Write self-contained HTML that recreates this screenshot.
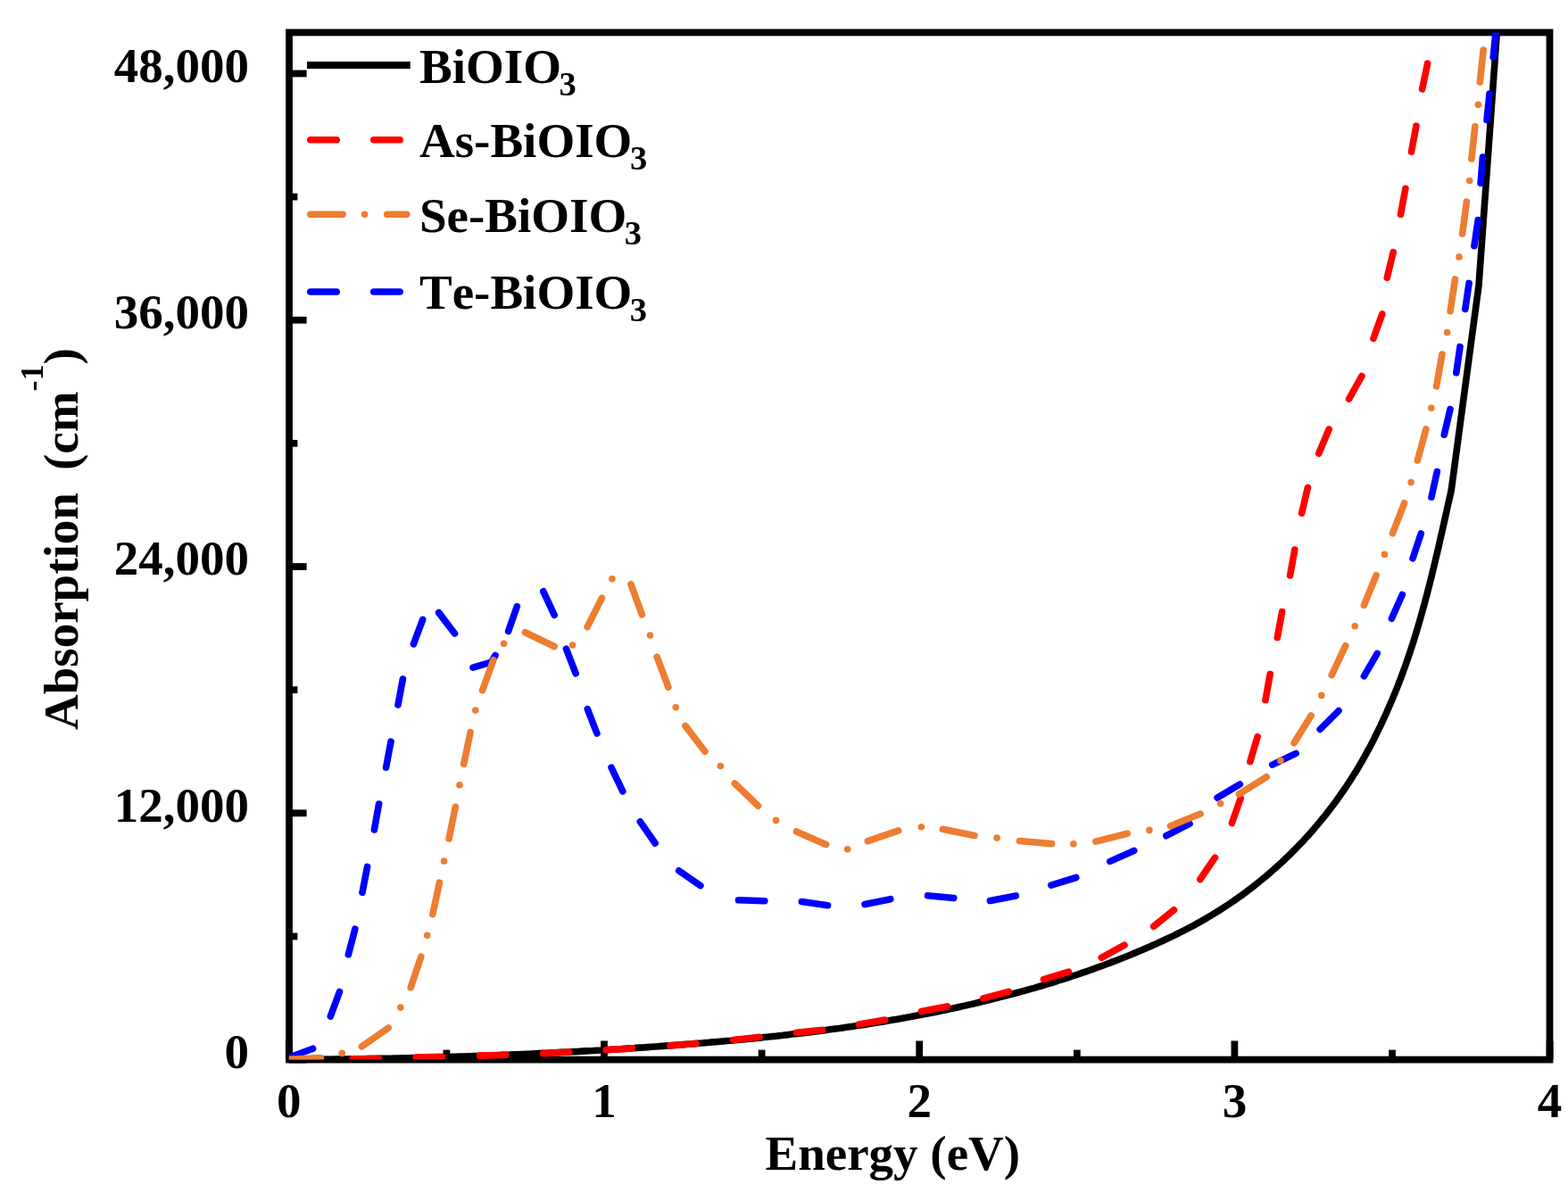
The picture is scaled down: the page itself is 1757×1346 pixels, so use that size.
<!DOCTYPE html>
<html><head><meta charset="utf-8"><style>
html,body{margin:0;padding:0;background:#fff;}
svg{display:block;}
text{font-kerning:none;}
</style></head><body>
<svg width="1757" height="1346" viewBox="0 0 1757 1346">
<rect width="1757" height="1346" fill="#fff"/>
<defs><clipPath id="pc"><rect x="323.8" y="36.4" width="1412.7" height="1151.2"/></clipPath></defs>
<rect x="324" y="36.4" width="1412.5" height="1151.1999999999998" fill="none" stroke="#000" stroke-width="7.8"/>
<line x1="324" y1="1187.60" x2="343.6" y2="1187.60" stroke="#000" stroke-width="7.8"/>
<line x1="324" y1="1049.46" x2="333.4" y2="1049.46" stroke="#000" stroke-width="7.8"/>
<line x1="324" y1="911.31" x2="343.6" y2="911.31" stroke="#000" stroke-width="7.8"/>
<line x1="324" y1="773.17" x2="333.4" y2="773.17" stroke="#000" stroke-width="7.8"/>
<line x1="324" y1="635.02" x2="343.6" y2="635.02" stroke="#000" stroke-width="7.8"/>
<line x1="324" y1="496.88" x2="333.4" y2="496.88" stroke="#000" stroke-width="7.8"/>
<line x1="324" y1="358.74" x2="343.6" y2="358.74" stroke="#000" stroke-width="7.8"/>
<line x1="324" y1="220.59" x2="333.4" y2="220.59" stroke="#000" stroke-width="7.8"/>
<line x1="324" y1="82.45" x2="343.6" y2="82.45" stroke="#000" stroke-width="7.8"/>
<line x1="323.80" y1="1187.6" x2="323.80" y2="1166.5" stroke="#000" stroke-width="7.8"/>
<line x1="500.40" y1="1187.6" x2="500.40" y2="1176.6" stroke="#000" stroke-width="7.8"/>
<line x1="677.00" y1="1187.6" x2="677.00" y2="1166.5" stroke="#000" stroke-width="7.8"/>
<line x1="853.60" y1="1187.6" x2="853.60" y2="1176.6" stroke="#000" stroke-width="7.8"/>
<line x1="1030.20" y1="1187.6" x2="1030.20" y2="1166.5" stroke="#000" stroke-width="7.8"/>
<line x1="1206.80" y1="1187.6" x2="1206.80" y2="1176.6" stroke="#000" stroke-width="7.8"/>
<line x1="1383.40" y1="1187.6" x2="1383.40" y2="1166.5" stroke="#000" stroke-width="7.8"/>
<line x1="1560.00" y1="1187.6" x2="1560.00" y2="1176.6" stroke="#000" stroke-width="7.8"/>
<line x1="1736.60" y1="1187.6" x2="1736.60" y2="1166.5" stroke="#000" stroke-width="7.8"/>
<g clip-path="url(#pc)"><path d="M323.8,1187.6 L327.9,1187.6 L331.9,1187.5 L336.0,1187.5 L340.1,1187.5 L344.1,1187.5 L348.2,1187.4 L352.3,1187.4 L356.3,1187.4 L360.4,1187.3 L364.5,1187.3 L368.5,1187.2 L372.6,1187.2 L376.7,1187.1 L380.7,1187.1 L384.8,1187.0 L388.9,1187.0 L392.9,1186.9 L397.0,1186.9 L401.1,1186.8 L405.1,1186.7 L409.2,1186.7 L413.2,1186.6 L417.3,1186.5 L421.4,1186.5 L425.4,1186.4 L429.5,1186.3 L433.6,1186.2 L437.6,1186.2 L441.7,1186.1 L445.8,1186.0 L449.8,1185.9 L453.9,1185.8 L457.9,1185.7 L462.0,1185.6 L466.1,1185.5 L470.1,1185.4 L474.2,1185.3 L478.2,1185.2 L482.3,1185.1 L486.4,1185.0 L490.4,1184.9 L494.5,1184.8 L498.5,1184.6 L502.6,1184.5 L506.7,1184.4 L510.7,1184.3 L514.8,1184.1 L518.8,1184.0 L522.9,1183.9 L527.0,1183.7 L531.0,1183.6 L535.1,1183.5 L539.1,1183.3 L543.2,1183.2 L547.3,1183.0 L551.3,1182.9 L555.4,1182.7 L559.4,1182.6 L563.5,1182.4 L567.6,1182.2 L571.6,1182.1 L575.7,1181.9 L579.7,1181.7 L583.8,1181.5 L587.8,1181.4 L591.9,1181.2 L596.0,1181.0 L600.0,1180.8 L604.1,1180.6 L608.1,1180.4 L612.2,1180.2 L616.2,1180.0 L620.3,1179.8 L624.4,1179.6 L628.4,1179.4 L632.5,1179.2 L636.5,1179.0 L640.6,1178.8 L644.6,1178.6 L648.7,1178.4 L652.8,1178.1 L656.8,1177.9 L660.9,1177.7 L664.9,1177.5 L669.0,1177.2 L673.0,1177.0 L677.1,1176.7 L681.1,1176.5 L685.2,1176.2 L689.3,1176.0 L693.3,1175.7 L697.4,1175.5 L701.4,1175.2 L705.5,1174.9 L709.5,1174.7 L713.6,1174.4 L717.6,1174.1 L721.7,1173.9 L725.8,1173.6 L729.8,1173.3 L733.9,1173.0 L737.9,1172.7 L742.0,1172.4 L746.0,1172.1 L750.1,1171.8 L754.1,1171.5 L758.2,1171.2 L762.3,1170.9 L766.3,1170.6 L770.4,1170.3 L774.4,1170.0 L778.5,1169.6 L782.5,1169.3 L786.6,1169.0 L790.6,1168.6 L794.7,1168.3 L798.7,1167.9 L802.8,1167.6 L806.9,1167.2 L810.9,1166.9 L815.0,1166.5 L819.0,1166.2 L823.1,1165.8 L827.1,1165.4 L831.2,1165.0 L835.2,1164.6 L839.3,1164.3 L843.3,1163.9 L847.4,1163.5 L851.4,1163.1 L855.5,1162.6 L859.5,1162.2 L863.5,1161.8 L867.6,1161.4 L871.6,1160.9 L875.7,1160.5 L879.7,1160.0 L883.8,1159.6 L887.8,1159.1 L891.8,1158.6 L895.9,1158.2 L899.9,1157.7 L903.9,1157.2 L908.0,1156.7 L912.0,1156.2 L916.0,1155.7 L920.1,1155.2 L924.1,1154.7 L928.1,1154.1 L932.1,1153.6 L936.2,1153.0 L940.2,1152.5 L944.2,1151.9 L948.2,1151.3 L952.2,1150.8 L956.3,1150.2 L960.3,1149.6 L964.3,1149.0 L968.3,1148.4 L972.3,1147.7 L976.3,1147.1 L980.3,1146.5 L984.3,1145.8 L988.3,1145.2 L992.3,1144.5 L996.3,1143.8 L1000.3,1143.1 L1004.3,1142.4 L1008.3,1141.7 L1012.3,1141.0 L1016.3,1140.3 L1020.3,1139.6 L1024.3,1138.8 L1028.2,1138.1 L1032.2,1137.3 L1036.2,1136.6 L1040.2,1135.8 L1044.2,1135.0 L1048.1,1134.2 L1052.1,1133.4 L1056.1,1132.6 L1060.1,1131.7 L1064.0,1130.9 L1068.0,1130.0 L1072.0,1129.2 L1075.9,1128.3 L1079.9,1127.4 L1083.9,1126.5 L1087.8,1125.6 L1091.8,1124.7 L1095.7,1123.8 L1099.7,1122.8 L1103.7,1121.9 L1107.6,1120.9 L1111.6,1119.9 L1115.5,1118.9 L1119.5,1117.9 L1123.4,1116.9 L1127.3,1115.9 L1131.3,1114.9 L1135.2,1113.8 L1139.1,1112.8 L1143.1,1111.7 L1147.0,1110.6 L1150.9,1109.5 L1154.8,1108.4 L1158.8,1107.3 L1162.7,1106.1 L1166.6,1105.0 L1170.5,1103.8 L1174.4,1102.7 L1178.3,1101.5 L1182.2,1100.3 L1186.1,1099.0 L1189.9,1097.8 L1193.8,1096.6 L1197.7,1095.3 L1201.6,1094.0 L1205.4,1092.8 L1209.3,1091.5 L1213.1,1090.1 L1217.0,1088.8 L1220.8,1087.5 L1224.7,1086.1 L1228.5,1084.7 L1232.3,1083.4 L1236.1,1082.0 L1240.0,1080.5 L1243.8,1079.1 L1247.6,1077.6 L1251.4,1076.2 L1255.1,1074.7 L1258.9,1073.2 L1262.7,1071.7 L1266.5,1070.2 L1270.2,1068.6 L1274.0,1067.1 L1277.7,1065.5 L1281.4,1063.9 L1285.2,1062.3 L1288.9,1060.7 L1292.6,1059.0 L1296.3,1057.4 L1300.0,1055.7 L1303.7,1054.0 L1307.4,1052.3 L1311.0,1050.6 L1314.7,1048.8 L1318.3,1047.0 L1322.0,1045.2 L1325.6,1043.4 L1329.2,1041.6 L1332.8,1039.7 L1336.4,1037.8 L1339.9,1035.9 L1343.5,1033.9 L1347.0,1031.9 L1350.5,1029.9 L1354.0,1027.8 L1357.5,1025.7 L1361.0,1023.6 L1364.4,1021.5 L1367.9,1019.3 L1371.3,1017.1 L1374.7,1014.9 L1378.1,1012.6 L1381.4,1010.3 L1384.8,1008.0 L1388.1,1005.6 L1391.4,1003.3 L1394.7,1000.9 L1397.9,998.4 L1401.2,996.0 L1404.4,993.5 L1407.6,991.0 L1410.8,988.4 L1413.9,985.9 L1417.1,983.3 L1420.2,980.6 L1423.3,978.0 L1426.3,975.3 L1429.4,972.6 L1432.4,969.9 L1435.4,967.2 L1438.4,964.4 L1441.3,961.6 L1444.3,958.8 L1447.2,955.9 L1450.0,953.0 L1452.9,950.1 L1455.7,947.2 L1458.5,944.3 L1461.3,941.3 L1464.0,938.3 L1466.8,935.3 L1469.5,932.3 L1472.1,929.2 L1474.8,926.1 L1477.4,923.0 L1480.0,919.9 L1482.5,916.7 L1485.1,913.6 L1487.6,910.4 L1490.1,907.2 L1492.5,904.0 L1495.0,900.7 L1497.4,897.4 L1499.7,894.1 L1502.1,890.8 L1504.4,887.5 L1506.7,884.1 L1509.0,880.8 L1511.2,877.4 L1513.4,874.0 L1515.6,870.6 L1517.7,867.1 L1519.9,863.7 L1522.0,860.2 L1524.0,856.7 L1526.1,853.2 L1528.1,849.7 L1530.1,846.1 L1532.0,842.5 L1534.0,839.0 L1535.9,835.4 L1537.8,831.8 L1539.6,828.2 L1541.4,824.5 L1543.2,820.9 L1545.0,817.2 L1546.8,813.6 L1548.5,809.9 L1550.2,806.2 L1551.9,802.5 L1553.6,798.8 L1555.2,795.1 L1556.9,791.3 L1558.5,787.6 L1560.1,783.9 L1561.6,780.1 L1563.2,776.4 L1564.7,772.6 L1566.2,768.8 L1567.7,765.0 L1569.2,761.2 L1570.6,757.4 L1572.0,753.6 L1573.4,749.8 L1574.8,746.0 L1576.1,742.2 L1577.4,738.3 L1578.7,734.5 L1580.0,730.7 L1581.3,726.8 L1582.6,722.9 L1583.8,719.1 L1585.0,715.2 L1586.2,711.3 L1587.4,707.4 L1588.5,703.6 L1589.7,699.7 L1590.8,695.8 L1591.9,691.9 L1593.0,688.0 L1594.1,684.1 L1595.2,680.1 L1596.3,676.2 L1597.3,672.3 L1598.4,668.4 L1599.4,664.5 L1600.4,660.5 L1601.4,656.6 L1602.4,652.6 L1603.4,648.7 L1604.4,644.8 L1605.3,640.8 L1606.3,636.9 L1607.3,632.9 L1608.2,629.0 L1609.1,625.0 L1610.1,621.0 L1611.0,617.1 L1611.9,613.1 L1612.8,609.2 L1613.7,605.2 L1614.6,601.2 L1615.5,597.3 L1616.4,593.3 L1617.3,589.3 L1618.2,585.4 L1619.1,581.4 L1620.0,577.4 L1620.9,573.5 L1621.7,569.5 L1622.6,565.5 L1623.5,561.6 L1624.4,557.6 L1625.3,553.7 L1626.2,549.7 L1657.0,320.0 L1677.3,36.4 L1679.8,0.0" fill="none" stroke="#000" stroke-width="7.6" stroke-linejoin="round"/>
<path d="M323.8,1187.6L353.2,1187.2 M395.0,1186.8L424.3,1186.2 M466.3,1185.1L495.6,1184.3 M537.5,1183.1L566.9,1182.2 M608.4,1180.7L637.7,1179.0 M679.2,1176.7L708.6,1174.9 M751.0,1171.9L780.2,1169.5 M821.8,1165.5L851.1,1162.3 M892.5,1157.4L921.7,1154.2 M962.6,1148.1L991.6,1143.1 M1032.5,1133.6L1061.3,1127.9 M1101.8,1118.9L1130.2,1111.4 M1169.4,1097.7L1197.5,1089.1 M1234.2,1073.3L1260.0,1059.2 M1292.7,1038.3L1315.5,1019.8 M1344.8,985.5L1361.4,961.2 M1380.4,922.5L1390.1,894.7 M1400.8,853.7L1409.1,825.6 M1418.0,784.5L1423.2,755.5 M1431.3,714.5L1436.6,685.6 M1445.6,644.9L1450.8,616.0 M1458.6,575.1L1465.4,546.5 M1477.7,508.2L1489.2,481.1 M1511.6,447.1L1525.9,421.5 M1538.9,379.5L1548.8,351.9 M1554.3,311.2L1561.2,282.6 M1569.5,240.2L1574.9,211.3 M1581.5,170.1L1586.9,141.2 M1593.6,99.9L1599.6,71.2" fill="none" stroke="#ff0000" stroke-width="7.6" stroke-linecap="round"/>
<path d="M323.8,1185.2L350.6,1175.2 M370.3,1139.1L380.5,1111.5 M390.4,1069.7L397.8,1041.2 M406.0,1000.2L411.6,971.4 M419.4,929.9L424.6,901.0 M432.6,860.1L438.0,831.2 M446.0,789.9L451.4,761.0 M463.4,721.9L473.7,694.3 M491.7,686.6L509.5,710.0 M569.6,707.5L579.3,679.7 M608.8,662.8L621.2,689.4 M634.4,727.2L645.1,754.7 M658.3,794.6L668.9,822.0 M685.1,860.3L697.8,886.8 M717.3,920.8L734.1,945.0 M760.7,975.8L784.9,992.6 M827.5,1008.8L856.8,1009.7 M898.3,1010.5L927.5,1014.7 M969.0,1013.5L997.8,1007.7 M1039.5,1003.8L1068.8,1006.5 M1109.4,1009.5L1138.2,1003.9 M1177.8,992.1L1205.8,983.5 M1243.8,965.4L1270.7,953.4 M1306.8,936.7L1333.0,923.2 M1364.1,894.1L1389.3,878.9 M1425.7,857.1L1452.1,844.4 M1479.2,817.4L1500.0,796.6 M1528.4,757.8L1543.2,732.4 M1559.4,693.3L1571.3,666.5 M1583.0,625.9L1592.3,598.0 M1604.0,557.2L1610.3,528.5 M1618.3,487.2L1625.0,458.6 M1631.8,417.8L1636.0,388.7 M1641.8,346.5L1646.1,317.4 M1651.9,275.6L1656.2,246.6 M1659.1,205.3L1661.4,176.0 M1666.0,134.4L1669.0,105.1 M1673.2,64.0L1676.5,30.0 M530,748.2 L550.5,742.2 L555,734.5" fill="none" stroke="#0000ff" stroke-width="7.6" stroke-linecap="round" stroke-linejoin="round"/>
<path d="M323.8,1187.4L359.5,1185.6 M405.4,1172.8L435.2,1152.0 M460.2,1106.7L471.8,1072.2 M484.8,1024.7L492.4,989.2 M503.1,939.9L510.3,904.3 M519.7,856.2L527.1,820.7 M540.5,773.8L552.9,739.7 M588.4,708.8L621.1,724.5 M658.1,702.6L674.4,670.1 M706.9,654.7L719.4,688.9 M736.1,736.2L748.9,770.1 M767.9,813.4L789.9,842.3 M823.3,878.0L849.6,903.2 M892.4,932.0L925.6,946.6 M972.3,942.7L1006.7,930.9 M1056.4,929.3L1092.0,936.5 M1142.5,942.5L1178.6,945.6 M1227.8,943.1L1263.0,934.2 M1311.5,925.8L1345.1,912.1 M1388.4,889.9L1419.2,870.8 M1450.0,832.8L1469.1,801.9 M1492.2,756.6L1507.7,723.7 M1528.4,678.4L1542.1,644.7 M1560.5,597.7L1573.6,563.8 M1588.4,516.1L1597.9,481.0 M1609.6,432.8L1615.9,397.1 M1625.1,348.7L1630.5,312.9 M1638.6,262.1L1643.4,226.2 M1648.9,178.0L1652.8,141.9 M1658.3,92.0L1662.2,56.0 M383.2,1180.4h0M448.8,1129.1h0M478.7,1048.2h0M497.6,965.1h0M515.0,879.7h0M532.8,796.0h0M564.6,721.3h0M641.5,723.0h0M685.9,648.8h0M728.5,712.0h0M757.2,792.7h0M807.3,858.5h0M869.5,919.4h0M949.7,951.8h0M1032.4,926.8h0M1117.1,939.1h0M1202.9,945.7h0M1287.9,930.4h0M1367.7,900.6h0M1435.0,852.4h0M1480.8,779.4h0M1518.2,701.8h0M1551.4,621.4h0M1581.1,540.6h0M1603.8,457.3h0M1621.6,372.6h0M1635.0,287.9h0M1646.7,202.6h0M1656.4,117.2h0" fill="none" stroke="#ed7d31" stroke-width="7.6" stroke-linecap="round"/></g>
<text x="279" y="1197.00" text-anchor="end" font-size="55" font-family="'Liberation Serif', 'Times New Roman', serif" font-weight="bold">0</text>
<text x="279" y="920.71" text-anchor="end" font-size="55" font-family="'Liberation Serif', 'Times New Roman', serif" font-weight="bold">12,000</text>
<text x="279" y="644.42" text-anchor="end" font-size="55" font-family="'Liberation Serif', 'Times New Roman', serif" font-weight="bold">24,000</text>
<text x="279" y="368.14" text-anchor="end" font-size="55" font-family="'Liberation Serif', 'Times New Roman', serif" font-weight="bold">36,000</text>
<text x="279" y="91.85" text-anchor="end" font-size="55" font-family="'Liberation Serif', 'Times New Roman', serif" font-weight="bold">48,000</text>
<text x="323.80" y="1251.8" text-anchor="middle" font-size="55" font-family="'Liberation Serif', 'Times New Roman', serif" font-weight="bold">0</text>
<text x="677.00" y="1251.8" text-anchor="middle" font-size="55" font-family="'Liberation Serif', 'Times New Roman', serif" font-weight="bold">1</text>
<text x="1030.20" y="1251.8" text-anchor="middle" font-size="55" font-family="'Liberation Serif', 'Times New Roman', serif" font-weight="bold">2</text>
<text x="1383.40" y="1251.8" text-anchor="middle" font-size="55" font-family="'Liberation Serif', 'Times New Roman', serif" font-weight="bold">3</text>
<text x="1736.60" y="1251.8" text-anchor="middle" font-size="55" font-family="'Liberation Serif', 'Times New Roman', serif" font-weight="bold">4</text>
<text x="1000.3" y="1311" text-anchor="middle" font-size="55" font-family="'Liberation Serif', 'Times New Roman', serif" font-weight="bold">Energy (eV)</text>
<text transform="translate(87.3,818) rotate(-90)" x="0" y="0" font-size="55" font-family="'Liberation Serif', 'Times New Roman', serif" font-weight="bold">Absorption<tspan dx="25">(cm</tspan><tspan font-size="36" dy="-39.4">-1</tspan><tspan dy="39.4">)</tspan></text>
<line x1="344" y1="73" x2="459.7" y2="73" stroke="#000" stroke-width="7.9"/>
<text x="470" y="92.5" font-size="55" font-family="'Liberation Serif', 'Times New Roman', serif" font-weight="bold">BiOIO<tspan font-size="38.5" dx="-2.5" dy="14">3</tspan></text>
<line x1="347.8" y1="156.7" x2="455.7" y2="156.7" stroke="#ff0000" stroke-width="7.6" stroke-linecap="round" stroke-dasharray="29.4 41.5"/>
<text x="470" y="175.8" font-size="55" font-family="'Liberation Serif', 'Times New Roman', serif" font-weight="bold">As-BiOIO<tspan font-size="38.5" dx="-2.5" dy="14">3</tspan></text>
<line x1="347.8" y1="240.2" x2="455.7" y2="240.2" stroke="#ed7d31" stroke-width="7.6" stroke-linecap="round" stroke-dasharray="36.3 24.5 0 25.1"/>
<text x="470" y="260" font-size="55" font-family="'Liberation Serif', 'Times New Roman', serif" font-weight="bold">Se-BiOIO<tspan font-size="38.5" dx="-2.5" dy="14">3</tspan></text>
<line x1="347.8" y1="327" x2="455.7" y2="327" stroke="#0000ff" stroke-width="7.6" stroke-linecap="round" stroke-dasharray="29.4 41.5"/>
<text x="470" y="346.3" font-size="55" font-family="'Liberation Serif', 'Times New Roman', serif" font-weight="bold">Te-BiOIO<tspan font-size="38.5" dx="-2.5" dy="14">3</tspan></text>
</svg>
</body></html>
